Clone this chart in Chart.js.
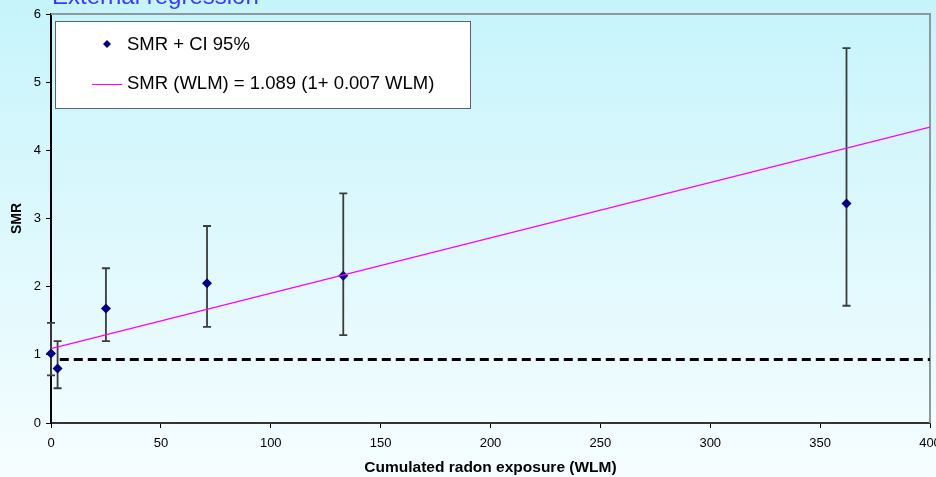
<!DOCTYPE html>
<html>
<head>
<meta charset="utf-8">
<script src="https://cdn.jsdelivr.net/npm/chart.js@4/dist/chart.umd.min.js"></script>
<style>
  html, body { margin: 0; padding: 0; background: #f4fcff; }
  #wrap { width: 936px; height: 477px; position: relative; }
</style>
</head>
<body>
<div id="wrap"><canvas id="mycanvas"></canvas></div>
<script>
// data
var wlm      = [0, 3, 25, 71, 133, 362];
var smr      = [1.02, 0.80, 1.68, 2.05, 2.16, 3.22];
var ciLow    = [0.70, 0.51, 1.20, 1.41, 1.29, 1.72];
var ciHigh   = [1.47, 1.20, 2.27, 2.89, 3.37, 5.50];
var fitX     = [0, 400];
var fitY     = [1.09, 4.34];
var refX     = [4, 400];
var refY     = [0.93, 0.93];
var xTicks   = [0, 50, 100, 150, 200, 250, 300, 350, 400];
var yTicks   = [0, 1, 2, 3, 4, 5, 6];

var titleText = 'External regression';
var pointLabel = 'SMR + CI 95%';
var fitLabel = 'SMR (WLM) = 1.089 (1+ 0.007 WLM)';

function pairs(xs, ys) {
  var out = [];
  for (var i in xs) out.push({ x: xs[i], y: ys[i] });
  return out;
}

// background, error bars, plot border, legend box, cut-off title
var decor = {
  id: 'decor',
  beforeDraw: function (chart) {
    var ctx = chart.ctx;
    var g = ctx.createLinearGradient(0, 0, 0, chart.height);
    g.addColorStop(0, '#c6f4fb');
    g.addColorStop(1, '#f6fdff');
    ctx.save();
    ctx.fillStyle = g;
    ctx.fillRect(0, 0, chart.width, chart.height);
    ctx.restore();
  },
  beforeDatasetsDraw: function (chart) {
    var ctx = chart.ctx;
    var xs = chart.scales.x, ys = chart.scales.y;
    var a = chart.chartArea;
    ctx.save();
    // plot border (top / right)
    ctx.strokeStyle = '#8c9a9c';
    ctx.lineWidth = 2;
    ctx.beginPath();
    ctx.moveTo(a.left, a.top);
    ctx.lineTo(a.right, a.top);
    ctx.lineTo(a.right, a.bottom);
    ctx.stroke();
    // error bars
    ctx.strokeStyle = '#3c3c3c';
    ctx.lineWidth = 1.8;
    for (var i in wlm) {
      var px = xs.getPixelForValue(wlm[i]);
      var lo = ys.getPixelForValue(ciLow[i]);
      var hi = ys.getPixelForValue(ciHigh[i]);
      ctx.beginPath();
      ctx.moveTo(px, lo); ctx.lineTo(px, hi);
      ctx.moveTo(px - 4, lo); ctx.lineTo(px + 4, lo);
      ctx.moveTo(px - 4, hi); ctx.lineTo(px + 4, hi);
      ctx.stroke();
    }
    ctx.restore();
  },
  afterDraw: function (chart) {
    var ctx = chart.ctx;
    ctx.save();
    // legend box
    ctx.fillStyle = '#ffffff';
    ctx.fillRect(56, 22, 414, 86);
    ctx.strokeStyle = '#5a6468';
    ctx.lineWidth = 1;
    ctx.strokeRect(55.5, 21.5, 415, 87);
    ctx.font = '18.5px "Liberation Sans", Arial, sans-serif';
    ctx.fillStyle = '#000000';
    ctx.textBaseline = 'middle';
    ctx.fillText(pointLabel, 127, 45);
    ctx.fillText(fitLabel, 127, 84);
    // diamond marker
    ctx.fillStyle = '#000080';
    ctx.beginPath();
    ctx.moveTo(107, 40); ctx.lineTo(111, 44); ctx.lineTo(107, 48); ctx.lineTo(103, 44);
    ctx.closePath();
    ctx.fill();
    // magenta sample
    ctx.strokeStyle = '#ff00ff';
    ctx.lineWidth = 1;
    ctx.beginPath();
    ctx.moveTo(92, 84.5); ctx.lineTo(122, 84.5);
    ctx.stroke();
    // title, cut off at the top edge
    ctx.font = '24px "Liberation Sans", Arial, sans-serif';
    ctx.fillStyle = '#3a3aff';
    ctx.textBaseline = 'alphabetic';
    ctx.fillText(titleText, 52, 4);
    ctx.restore();
  }
};

var ctx = document.getElementById('mycanvas');
var chart = new Chart(ctx, {
  type: 'scatter',
  data: {
    datasets: [
      {
        label: 'ref',
        type: 'line',
        data: pairs(refX, refY),
        borderColor: '#000000',
        borderWidth: 3,
        borderDash: [9, 5],
        pointRadius: 0,
        fill: false
      },
      {
        label: fitLabel,
        type: 'line',
        data: pairs(fitX, fitY),
        borderColor: '#ff00ff',
        borderWidth: 1.2,
        pointRadius: 0,
        fill: false
      },
      {
        label: pointLabel,
        data: pairs(wlm, smr),
        pointStyle: 'rectRot',
        pointRadius: 5,
        backgroundColor: '#000080',
        borderColor: '#000080',
        borderWidth: 0
      }
    ]
  },
  options: {
    responsive: true,
    maintainAspectRatio: false,
    animation: false,
    clip: false,
    layout: { autoPadding: false, padding: { top: 14, right: 6, left: 0, bottom: 0 } },
    plugins: {
      legend: { display: false },
      tooltip: { enabled: false }
    },
    scales: {
      x: {
        type: 'linear',
        min: 0,
        max: 400,
        afterBuildTicks: function (s) { s.ticks = xTicks.map(function (v) { return { value: v }; }); },
        afterFit: function (s) { s.height = 54; s.paddingLeft = 0; s.paddingRight = 0; },
        grid: { display: true, drawOnChartArea: false, drawTicks: true, tickLength: 5, color: '#000000' },
        border: { color: '#333333', width: 2 },
        ticks: { color: '#000000', font: { family: '"Liberation Sans", Arial', size: 13 }, padding: 8, maxRotation: 0 },
        title: {
          display: true,
          text: 'Cumulated radon exposure (WLM)',
          color: '#000000',
          font: { family: '"Liberation Sans", Arial', size: 15.5, weight: 'bold' },
          padding: { top: 8, bottom: 0 }
        }
      },
      y: {
        type: 'linear',
        min: 0,
        max: 6,
        afterBuildTicks: function (s) { s.ticks = yTicks.map(function (v) { return { value: v }; }); },
        afterFit: function (s) { s.width = 51; s.paddingTop = 0; s.paddingBottom = 0; },
        grid: { display: true, drawOnChartArea: false, drawTicks: true, tickLength: 5, color: '#000000' },
        border: { color: '#000000', width: 2 },
        ticks: { color: '#000000', font: { family: '"Liberation Sans", Arial', size: 13 }, padding: 5 },
        title: {
          display: true,
          text: 'SMR',
          color: '#000000',
          font: { family: '"Liberation Sans", Arial', size: 14, weight: 'bold' },
          padding: { top: 9, bottom: 0 }
        }
      }
    }
  },
  plugins: [decor]
});
</script>
</body>
</html>
